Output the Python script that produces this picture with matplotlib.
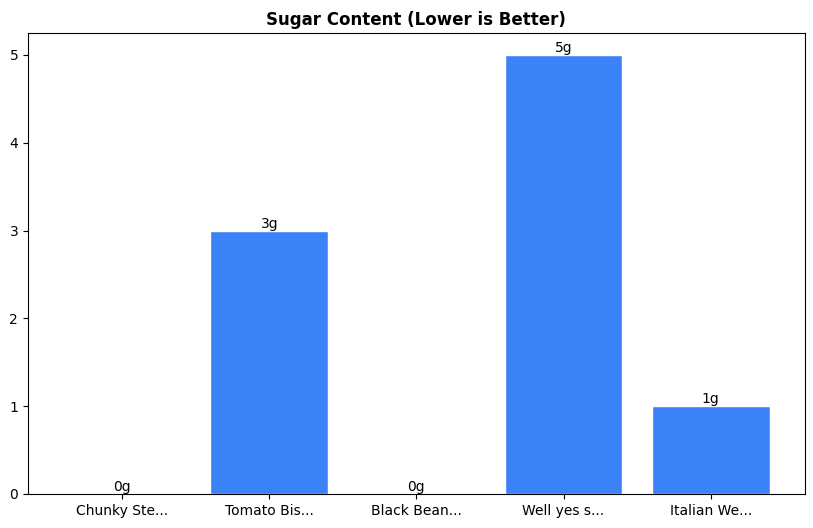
import matplotlib
matplotlib.use('agg')
from matplotlib import pyplot as plt

labels = ['Chunky Ste...', 'Tomato Bis...', 'Black Bean...', 'Well yes s...', 'Italian We...']
sugar = [0, 3, 0, 5, 1]

fig = plt.figure(figsize=(8.13, 5.28), dpi=100)
ax = fig.add_subplot(111)
fig.subplots_adjust(left=0.0344, right=0.990, top=0.9375, bottom=0.0644)

bars = ax.bar(labels, sugar, color='#3b82f6', edgecolor='white', linewidth=1)
for b, v in zip(bars, sugar):
    ax.text(b.get_x() + b.get_width() / 2, b.get_height(), f'{v}g',
            ha='center', va='bottom', fontsize=10)

ax.set_title('Sugar Content (Lower is Better)', fontweight='bold', fontsize=12)

fig.savefig('out.png', dpi=100)
